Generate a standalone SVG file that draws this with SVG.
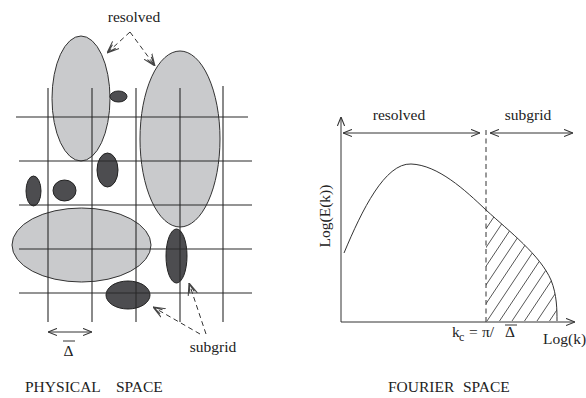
<svg xmlns="http://www.w3.org/2000/svg" width="586" height="398" viewBox="0 0 586 398">
<style>
text{font-family:"Liberation Serif","Times New Roman",serif;fill:#222;font-size:15.5px}
.light{fill:#c9cacc;stroke:#333;stroke-width:1}
.dark{fill:#4d4d50;stroke:#222;stroke-width:1}
.grid{stroke:#2a2a2a;stroke-width:1.1;fill:none}
.dash{stroke:#333;stroke-width:1;stroke-dasharray:5,3.5;fill:none}
.ln{stroke:#333;stroke-width:1;fill:none}
.hatch{stroke:#444;stroke-width:0.9}
</style>
<defs>
<marker id="v" viewBox="0 0 10 10" refX="10" refY="5" markerWidth="9" markerHeight="9" markerUnits="userSpaceOnUse" orient="auto-start-reverse">
<path d="M0,1 L10,5 L0,9" fill="none" stroke="#333" stroke-width="1.2"/>
</marker>
<marker id="vb" viewBox="0 0 10 10" refX="10" refY="5" markerWidth="12" markerHeight="12" markerUnits="userSpaceOnUse" orient="auto">
<path d="M0,1 L10,5 L0,9 M2,3 L9,5 L2,7" fill="none" stroke="#444" stroke-width="0.9"/>
</marker>
<clipPath id="hc">
<path d="M486,210 C510,232 540,255 551,280 C557,295 557,310 557,321 L486,321 Z"/>
</clipPath>
</defs>

<g id="physical-space">
<g id="blobs">
<ellipse id="resolved-top-left" class="light" cx="81" cy="98.5" rx="29" ry="62.5"/>
<ellipse id="resolved-right" class="light" cx="180" cy="139" rx="40" ry="88"/>
<ellipse id="resolved-bottom" class="light" cx="81.5" cy="245" rx="69.5" ry="37"/>
<ellipse id="sg1" class="dark" cx="118.5" cy="96.5" rx="8.5" ry="5.5"/>
<ellipse id="sg2" class="dark" cx="107.5" cy="170" rx="10.5" ry="17"/>
<ellipse id="sg3" class="dark" cx="33.5" cy="191" rx="7.5" ry="15"/>
<ellipse id="sg4" class="dark" cx="64.5" cy="190.5" rx="11.5" ry="10.5"/>
<ellipse id="sg5" class="dark" cx="176.5" cy="256" rx="10.5" ry="27"/>
<ellipse id="sg6" class="dark" cx="128" cy="295" rx="22" ry="14"/>
</g>
<g id="grid" class="grid">
<line x1="16" y1="117" x2="248" y2="117"/>
<line x1="19" y1="161" x2="252" y2="161"/>
<line x1="19" y1="205" x2="252" y2="205"/>
<line x1="19" y1="249" x2="252" y2="249"/>
<line x1="19" y1="293" x2="252" y2="293"/>
<line x1="48" y1="88" x2="48" y2="322"/>
<line x1="92" y1="88" x2="92" y2="322"/>
<line x1="136" y1="88" x2="136" y2="322"/>
<line x1="180" y1="88" x2="180" y2="322"/>
<line x1="223" y1="86" x2="223" y2="322"/>
</g>
<g id="labels-physical">
<text x="134" y="22" text-anchor="middle">resolved</text>
<text x="213" y="352" text-anchor="middle">subgrid</text>
<text x="68.5" y="356" text-anchor="middle" font-size="15">Δ</text>
<line x1="63" y1="341" x2="75" y2="341" class="ln"/>
<text y="392" font-size="15.3"><tspan x="25">PHYSICAL</tspan><tspan x="116">SPACE</tspan></text>
</g>
</g>

<g id="fourier-space">
<g id="axes">
<line x1="341" y1="322" x2="341" y2="117" class="ln" marker-end="url(#v)"/>
<line x1="341" y1="322" x2="575" y2="322" class="ln" marker-end="url(#v)"/>
</g>
<g id="spectrum">
<g clip-path="url(#hc)" class="hatch">
<line x1="412" y1="321" x2="492" y2="201"/>
<line x1="424.5" y1="321" x2="504.5" y2="201"/>
<line x1="437" y1="321" x2="517" y2="201"/>
<line x1="449.5" y1="321" x2="529.5" y2="201"/>
<line x1="462" y1="321" x2="542" y2="201"/>
<line x1="474.5" y1="321" x2="554.5" y2="201"/>
<line x1="487" y1="321" x2="567" y2="201"/>
<line x1="499.5" y1="321" x2="579.5" y2="201"/>
<line x1="512" y1="321" x2="592" y2="201"/>
<line x1="524.5" y1="321" x2="604.5" y2="201"/>
<line x1="537" y1="321" x2="617" y2="201"/>
<line x1="549.5" y1="321" x2="629.5" y2="201"/>
</g>
<path d="M344,253 C362,210 385,163 411,164 C438,165 465,190 486,210 C510,232 540,255 551,280 C557,295 557,310 557,321" class="ln"/>
</g>
<g id="cutoff">
<line x1="486" y1="130" x2="486" y2="322" class="dash"/>
</g>
<g id="labels-fourier">
<text x="399" y="120" text-anchor="middle">resolved</text>
<text x="528" y="120" text-anchor="middle">subgrid</text>
<text transform="translate(330,216) rotate(-90)" text-anchor="middle">Log(E(k))</text>
<text x="452" y="337">k<tspan x="459" dy="4" font-size="12">c</tspan><tspan x="469" dy="-4">=</tspan><tspan x="482">π/</tspan><tspan x="505">Δ</tspan></text>
<line x1="505" y1="325" x2="517" y2="325" class="ln"/>
<text x="543" y="344">Log(k)</text>
<text y="392" font-size="15.5"><tspan x="388">FOURIER</tspan><tspan x="463">SPACE</tspan></text>
</g>
</g>

<g id="connectors">
<line x1="130" y1="32" x2="107" y2="53" class="dash" marker-end="url(#vb)"/>
<line x1="130" y1="32" x2="155" y2="66" class="dash" marker-end="url(#vb)"/>
<line x1="200" y1="334" x2="153" y2="307" class="dash" marker-end="url(#vb)"/>
<line x1="206" y1="334" x2="189" y2="283" class="dash" marker-end="url(#vb)"/>
<line x1="48" y1="332" x2="92" y2="332" class="ln" marker-start="url(#v)" marker-end="url(#v)"/>
<line x1="343" y1="133" x2="480" y2="133" class="ln" marker-start="url(#v)" marker-end="url(#v)"/>
<line x1="490" y1="133" x2="573" y2="133" class="ln" marker-start="url(#v)" marker-end="url(#v)"/>
</g>
</svg>
